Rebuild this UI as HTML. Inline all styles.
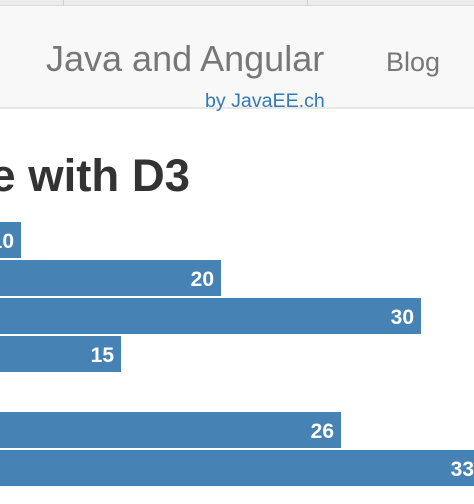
<!DOCTYPE html>
<html><head><meta charset="utf-8">
<style>
body{margin:0;width:474px;height:504px;overflow:hidden;background:#fff;font-family:"Liberation Sans",Arial,sans-serif;position:relative}
.strip{position:absolute;left:0;top:0;width:474px;height:5px;background:#ececec;border-bottom:1px solid #d8d8d8}
.vl{position:absolute;top:0;width:1px;height:5px;background:#d0d0d0}
.nav{position:absolute;left:0;top:6px;width:474px;height:101px;background:#f8f8f8;border-bottom:2px solid #e7e7e7}
.brand{position:absolute;left:46px;top:32px;font-size:36px;color:#777;white-space:nowrap}
.blog{position:absolute;left:386px;top:41px;font-size:27px;color:#777}
.by{position:absolute;left:205px;top:84px;font-size:19.6px;color:#337ab7;white-space:nowrap}
.hwrap{position:absolute;left:0;top:140px;width:474px;height:70px;overflow:hidden}
h1{position:absolute;right:284px;top:10px;margin:0;font-size:45.5px;font-weight:bold;color:#333;white-space:nowrap}
svg{position:absolute;left:0;top:0}
</style></head><body>
<div class="strip"></div>
<div class="vl" style="left:63px"></div>
<div class="vl" style="left:307px"></div>
<div class="nav">
<div class="brand">Java and Angular</div>
<div class="blog">Blog</div>
<div class="by">by JavaEE.ch</div>
</div>
<div class="hwrap">
<h1>Bar Chart made Simple with D3</h1>
</div>
<svg id="chart" width="474" height="504"></svg>
<script>
const values=[10,20,30,15,0,26,33];
const labels=["10","20","30","15","","26","33"];
const svg=document.getElementById('chart');
const NS='http://www.w3.org/2000/svg';
const top0=222, band=38, barH=36;
function x(v){return v*20-179;}
function y(i){return top0+i*band;}
values.forEach((v,i)=>{
  const w=Math.max(0,x(v));
  if(w<=0) return;
  const r=document.createElementNS(NS,'rect');
  r.setAttribute('x',0);r.setAttribute('y',y(i));r.setAttribute('width',w);r.setAttribute('height',barH);
  r.setAttribute('fill','#4682b4');
  
  
  svg.appendChild(r);
  const t=document.createElementNS(NS,'text');
  t.setAttribute('x',w-7);t.setAttribute('y',y(i)+barH/2+8);
  t.setAttribute('text-anchor','end');t.setAttribute('fill','#fff');
  t.setAttribute('font-size','21');
  t.setAttribute('font-weight','bold');
  t.setAttribute('font-family','Liberation Sans, Arial, sans-serif');
  t.textContent=labels[i];
  
  
  svg.appendChild(t);
});
</script>
</body></html>
